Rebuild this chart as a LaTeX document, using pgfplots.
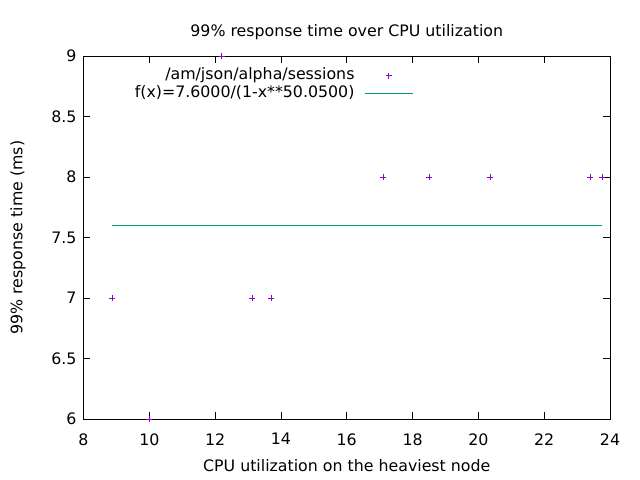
\documentclass[border=0pt]{standalone}
\usepackage{fontspec}
\setmainfont{DejaVu Sans}
\usepackage{pgfplots}
\pgfplotsset{compat=1.18}
\definecolor{gpurple}{RGB}{148,0,211}
\definecolor{ggreen}{RGB}{0,158,115}
\pgfplotsset{
    every axis plot post/.append style={
        legend image code/.code={\draw[mark repeat=2,mark phase=2,##1]
            plot coordinates {(0bp,0bp) (24bp,0bp) (48bp,0bp)};}},
}

\begin{document}
\fontsize{15.8bp}{18bp}\selectfont
\begin{tikzpicture}
\useasboundingbox (-83.5bp,-61bp) rectangle (556.5bp,419bp);
\begin{axis}[
    at={(0,0)}, anchor=south west,
    scale only axis,
    width=526.5bp, height=363bp,
    xmin=8, xmax=24, ymin=6, ymax=9,
    xtick={8,10,12,14,16,18,20,22,24},
    ytick={6,6.5,7,7.5,8,8.5,9},
    /pgf/number format/assume math mode=true,
    tick align=inside,
    major tick length=7bp,
    axis line style={line width=0.8bp},
    tick style={line width=0.8bp, black},
    xticklabel style={yshift=-9bp},
    yticklabel style={xshift=-1.5bp},
    clip=false,
    title={99\% response time over CPU utilization},
    title style={at={(axis description cs:0.5,1.0496)}, anchor=center},
    xlabel={CPU utilization on the heaviest node},
    xlabel style={at={(axis description cs:0.5,-0.1295)}, anchor=center},
    ylabel={99\% response time (ms)},
    ylabel style={at={(axis description cs:-0.1244,0.5)}, anchor=center},
    legend cell align=right,
    legend plot pos=right,
    legend style={draw=none, fill=none,
        at={(axis description cs:0.632,0.977)}, anchor=north east,
        column sep=8bp,
        nodes={inner sep=1.5bp, text height=11.5bp, text depth=3.5bp},
        row sep=0.4bp},
]
\addplot[color=gpurple, only marks, mark=+, mark size=3bp, line width=0.8bp]
coordinates {
    (8.875,7) (10.0,6) (12.2,9) (13.13,7) (13.70,7)
    (17.10,8) (18.51,8) (20.36,8) (23.40,8) (23.77,8)
};
\addlegendentry{/am/json/alpha/sessions}
\addplot[color=ggreen, line width=1.1bp, mark=none]
coordinates {
    (8.875,7.6) (23.77,7.6)
};
\addlegendentry{f(x)=7.6000/(1-x**50.0500)}
\end{axis}
\end{tikzpicture}
\end{document}
